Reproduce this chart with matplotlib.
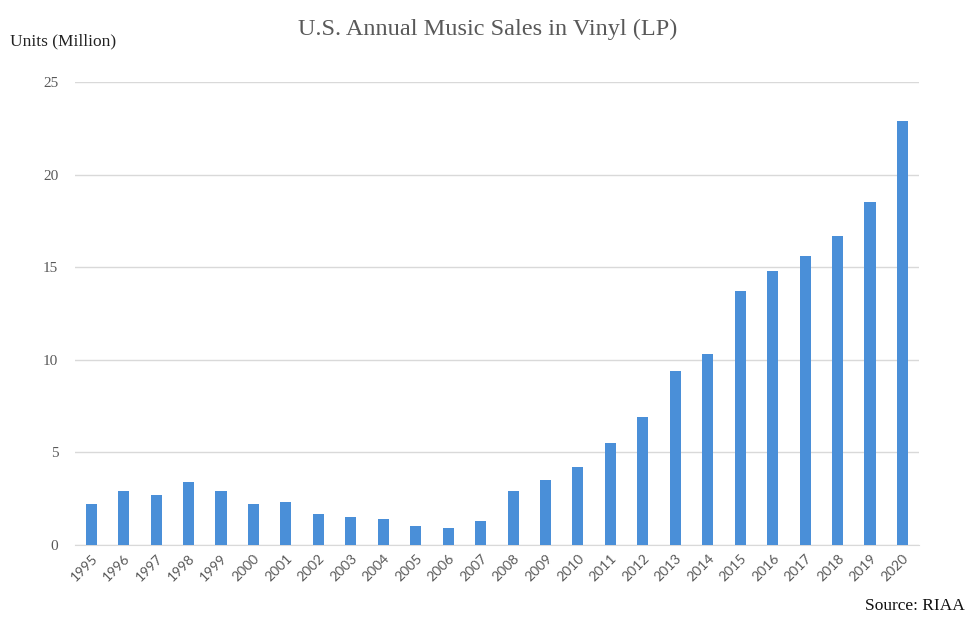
import matplotlib
matplotlib.use("Agg")
from matplotlib import pyplot as plt

years = [str(y) for y in range(1995, 2021)]
units = [2.2, 2.9, 2.7, 3.4, 2.9, 2.2, 2.3, 1.7, 1.5, 1.4, 1.0, 0.9, 1.3,
         2.9, 3.5, 4.2, 5.5, 6.9, 9.4, 10.3, 13.7, 14.8, 15.6, 16.7, 18.5, 22.9]
yticks = [0, 5, 10, 15, 20, 25]

plt.rcParams['font.family'] = ['Liberation Serif', 'DejaVu Serif']

fig = plt.figure(figsize=(9.66, 6.21), dpi=100)
ax = fig.add_axes([0.0776, 0.1224, 0.8734, 0.7456])

ax.bar(range(len(years)), units, width=0.34, color='#4A8FD8', zorder=3)

ax.set_xlim(-0.5, len(years) - 0.5)
ax.set_ylim(0, 25)
ax.set_yticks(yticks)
ax.set_yticklabels([str(t) for t in yticks], color='#595959', fontsize=11)
ax.set_xticks(range(len(years)))
ax.set_xticklabels(years, rotation=45, ha='right', rotation_mode='anchor',
                   color='#595959', fontsize=10, family=['Lato', 'DejaVu Sans'])
ax.tick_params(axis='y', length=0, pad=12)
ax.tick_params(axis='x', length=0, pad=5)

ax.grid(axis='y', color='#d9d9d9', linewidth=1, zorder=0)
for s in ['top', 'right', 'left']:
    ax.spines[s].set_visible(False)
ax.spines['bottom'].set_color('#d9d9d9')

fig.text(0.505, 0.953, 'U.S. Annual Music Sales in Vinyl (LP)', ha='center', va='center',
         fontsize=17.5, color='#595959')
fig.text(0.01, 0.934, 'Units (Million)', ha='left', va='center', fontsize=12.5, color='#222222')
fig.text(0.999, 0.012, 'Source: RIAA', ha='right', va='bottom', fontsize=12.5, color='#111111')

fig.savefig('out.png', dpi=100)
